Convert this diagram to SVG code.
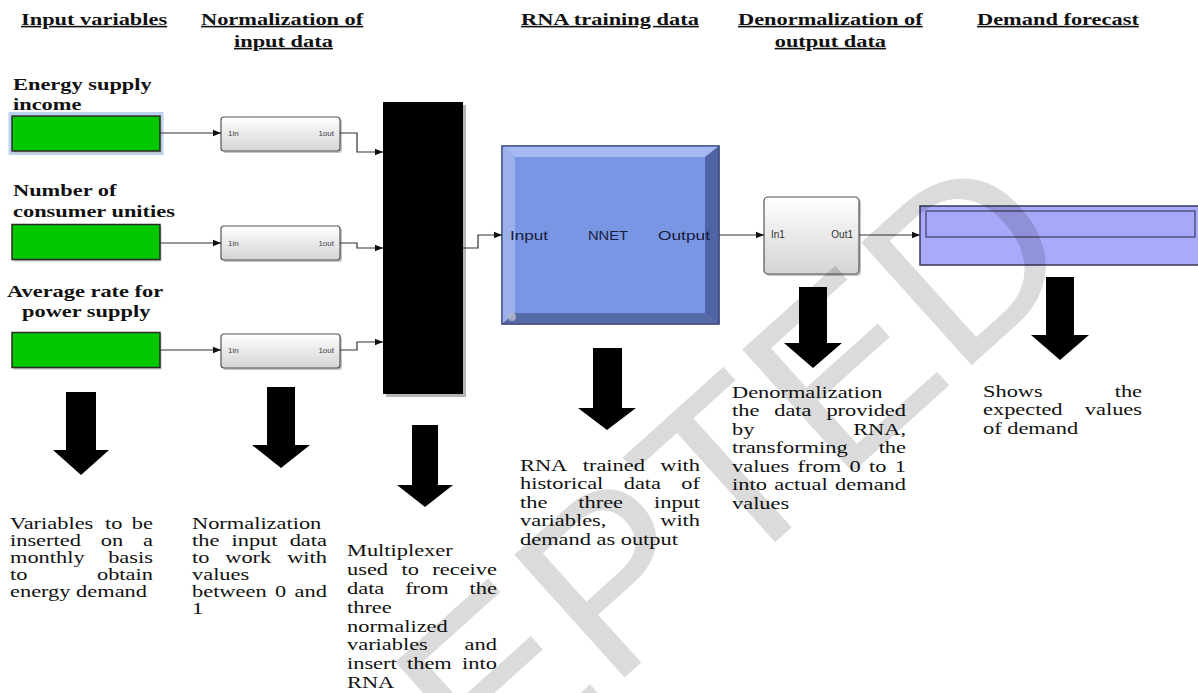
<svg xmlns="http://www.w3.org/2000/svg" width="1198" height="693" viewBox="0 0 1198 693">
<style>
.hdr{font-family:"Liberation Serif","Times New Roman",serif;font-weight:bold;font-size:16px;text-decoration:underline;fill:#111}
.lbl{font-family:"Liberation Serif","Times New Roman",serif;font-weight:bold;font-size:16px;fill:#111}
.b{font-family:"Liberation Serif","Times New Roman",serif;font-size:16px;fill:#111}
.e{text-anchor:end}
.port{font-family:"Liberation Sans",Arial,sans-serif;font-size:8px;fill:#444}
.port2{font-family:"Liberation Sans",Arial,sans-serif;font-size:10px;fill:#333}
.nn{font-family:"Liberation Sans",Arial,sans-serif;font-size:13px;fill:#1a1a3a}
.green{fill:#00c800;stroke:#2a2a2a;stroke-width:1.5}
.sblk{fill:url(#g1);stroke:#555;stroke-width:1.2}
.shd{fill:#c4c4c4}
.conn{fill:none;stroke:#333;stroke-width:1.2;marker-end:url(#ah)}
.big{fill:#000}
</style>
<defs>
<linearGradient id="g1" x1="0" y1="0" x2="0" y2="1"><stop offset="0" stop-color="#ffffff"/><stop offset="1" stop-color="#d4d4d4"/></linearGradient>
<marker id="ah" viewBox="0 0 10 10" refX="10" refY="5" markerWidth="9" markerHeight="8" markerUnits="userSpaceOnUse" orient="auto"><path d="M0,1 L10,5 L0,9 z" fill="#111"/></marker>
</defs>
<rect width="1198" height="693" fill="#fff"/>

<g id="headers">
<g id="hdr-input" transform="translate(21,0) scale(1.4,1)"><text class="hdr" x="0" y="25">Input variables</text></g>
<g id="hdr-norm" transform="translate(201,0) scale(1.4,1)"><text class="hdr" x="0" y="25">Normalization of</text><text class="hdr" x="58.9" y="47" text-anchor="middle">input data</text></g>
<g id="hdr-rna" transform="translate(521,0) scale(1.4,1)"><text class="hdr" x="0" y="25">RNA training data</text></g>
<g id="hdr-denorm" transform="translate(738,0) scale(1.4,1)"><text class="hdr" x="0" y="25">Denormalization of</text><text class="hdr" x="66" y="47" text-anchor="middle">output data</text></g>
<g id="hdr-forecast" transform="translate(977,0) scale(1.4,1)"><text class="hdr" x="0" y="25">Demand forecast</text></g>
</g>

<g id="in-energy">
<g transform="translate(13,0) scale(1.4,1)"><text class="lbl" x="0" y="90">Energy supply</text><text class="lbl" x="0" y="110">income</text></g>
<rect x="10" y="113.5" width="152" height="40" fill="none" stroke="#b9d3ee" stroke-width="3"/>
<rect x="13.5" y="118" width="148" height="35" class="shd"/>
<rect x="12" y="116" width="148" height="35" class="green"/>
</g>
<g id="in-consumers">
<g transform="translate(13,0) scale(1.4,1)"><text class="lbl" x="0" y="196">Number of</text><text class="lbl" x="0" y="217">consumer unities</text></g>
<rect x="13.5" y="226.5" width="148" height="35" class="shd"/>
<rect x="12" y="224.5" width="148" height="35" class="green"/>
</g>
<g id="in-rate">
<g transform="translate(7,0) scale(1.4,1)"><text class="lbl" x="0" y="297">Average rate for</text></g>
<g transform="translate(22,0) scale(1.4,1)"><text class="lbl" x="0" y="317">power supply</text></g>
<rect x="13.5" y="334.5" width="148" height="35" class="shd"/>
<rect x="12" y="332.5" width="148" height="35" class="green"/>
</g>

<g id="norm1">
<rect x="223" y="119" width="119" height="34" rx="3" class="shd"/>
<rect x="221" y="117" width="119" height="34" rx="3" class="sblk"/>
<text class="port" x="228" y="136">1in</text><text class="port e" x="334" y="136">1out</text>
</g>
<g id="norm2">
<rect x="223" y="228" width="119" height="34" rx="3" class="shd"/>
<rect x="221" y="226" width="119" height="34" rx="3" class="sblk"/>
<text class="port" x="228" y="246">1in</text><text class="port e" x="334" y="246">1out</text>
</g>
<g id="norm3">
<rect x="223" y="336" width="119" height="34" rx="3" class="shd"/>
<rect x="221" y="334" width="119" height="34" rx="3" class="sblk"/>
<text class="port" x="228" y="353">1in</text><text class="port e" x="334" y="353">1out</text>
</g>

<g id="mux">
<rect x="386" y="105" width="80" height="292" fill="#b5b5b5"/>
<rect x="383" y="102" width="80" height="292" fill="#000"/>
</g>

<g id="nnet">
<rect x="502" y="146" width="217" height="178" fill="#7896e4" stroke="#3a4678" stroke-width="1.2"/>
<polygon points="502,146 719,146 705,157 515,157" fill="#a6b9f1"/>
<polygon points="502,146 515,157 515,313 502,324" fill="#9cb0ec"/>
<polygon points="719,146 719,324 705,313 705,157" fill="#4f63a5"/>
<polygon points="502,324 719,324 705,313 515,313" fill="#566aa6"/>
<rect x="502" y="146" width="217" height="178" fill="none" stroke="#3a4678" stroke-width="1.2"/>
<circle cx="512" cy="317" r="4" fill="#b8bcc8" opacity="0.8"/>
<text class="nn" x="510" y="240" textLength="38" lengthAdjust="spacingAndGlyphs">Input</text>
<text class="nn" x="588" y="240" textLength="40" lengthAdjust="spacingAndGlyphs">NNET</text>
<text class="nn" x="658" y="240" textLength="52" lengthAdjust="spacingAndGlyphs">Output</text>
</g>

<g id="denorm">
<rect x="766" y="199" width="95" height="77" rx="4" class="shd"/>
<rect x="764" y="197" width="95" height="77" rx="4" class="sblk"/>
<text class="port2" x="771" y="238">In1</text><text class="port2 e" x="853" y="238">Out1</text>
</g>

<g id="forecast">
<rect x="920" y="206" width="300" height="59" fill="#aaaafd" stroke="#3a3a5a" stroke-width="1.5"/>
<rect x="926" y="211" width="269" height="26" fill="#a8a8fb" stroke="#44446a" stroke-width="1.3"/>
</g>

<g id="connectors">
<path class="conn" d="M160,133 H221"/>
<path class="conn" d="M160,243 H221"/>
<path class="conn" d="M160,350 H221"/>
<path class="conn" d="M340,133 H357 V152 H383"/>
<path class="conn" d="M340,243 H357 V248 H383"/>
<path class="conn" d="M340,350 H357 V342 H383"/>
<path class="conn" d="M463,248 H478 V235 H502"/>
<path class="conn" d="M719,235 H764"/>
<path class="conn" d="M859,235 H920"/>
</g>

<g id="block-arrows">
<path class="big" d="M66,392 H96 V450 H109 L81,475 L53,450 H66 Z"/>
<path class="big" d="M267,387 H295 V445 H310 L281,468 L252,445 H267 Z"/>
<path class="big" d="M412,425 H438 V485 H453 L425,507 L397,485 H412 Z"/>
<path class="big" d="M593,348 H622 V408 H636 L607,430 L578,408 H593 Z"/>
<path class="big" d="M799,287 H827 V343 H842 L813,368 L784,343 H799 Z"/>
<path class="big" d="M1046,277 H1074 V335 H1089 L1060,360 L1031,335 H1046 Z"/>
</g>

<g id="note-input" transform="translate(10,0) scale(1.4,1)">
<text class="b" x="0" y="529">Variables</text><text class="b" x="67.9" y="529">to</text><text class="b e" x="102.1" y="529">be</text>
<text class="b" x="0" y="546">inserted</text><text class="b" x="64.8" y="546">on</text><text class="b e" x="102.1" y="546">a</text>
<text class="b" x="0" y="563">monthly</text><text class="b e" x="102.1" y="563">basis</text>
<text class="b" x="0" y="580">to</text><text class="b e" x="102.1" y="580">obtain</text>
<text class="b" x="0" y="597">energy demand</text>
</g>

<g id="note-norm" transform="translate(192,0) scale(1.4,1)">
<text class="b" x="0" y="529">Normalization</text>
<text class="b" x="0" y="546">the</text><text class="b" x="28.2" y="546">input</text><text class="b e" x="96.4" y="546">data</text>
<text class="b" x="0" y="563">to</text><text class="b" x="23.75" y="563">work</text><text class="b e" x="96.4" y="563">with</text>
<text class="b" x="0" y="580">values</text>
<text class="b" x="0" y="597">between</text><text class="b" x="59.3" y="597">0</text><text class="b e" x="96.4" y="597">and</text>
<text class="b" x="0" y="614">1</text>
</g>

<g id="note-mux" transform="translate(347,0) scale(1.4,1)">
<text class="b" x="0" y="556">Multiplexer</text>
<text class="b" x="0" y="574.9">used</text><text class="b" x="38.9" y="574.9">to</text><text class="b e" x="107.1" y="574.9">receive</text>
<text class="b" x="0" y="593.8">data</text><text class="b" x="41.56" y="593.8">from</text><text class="b e" x="107.1" y="593.8">the</text>
<text class="b" x="0" y="612.7">three</text>
<text class="b" x="0" y="631.6">normalized</text>
<text class="b" x="0" y="650.5">variables</text><text class="b e" x="107.1" y="650.5">and</text>
<text class="b" x="0" y="669.4">insert</text><text class="b" x="42.85" y="669.4">them</text><text class="b e" x="107.1" y="669.4">into</text>
<text class="b" x="0" y="688.3">RNA</text>
</g>

<g id="note-rna" transform="translate(520,0) scale(1.4,1)">
<text class="b" x="0" y="471">RNA</text><text class="b" x="44.8" y="471">trained</text><text class="b e" x="128.6" y="471">with</text>
<text class="b" x="0" y="489.5">historical</text><text class="b" x="74.1" y="489.5">data</text><text class="b e" x="128.6" y="489.5">of</text>
<text class="b" x="0" y="508">the</text><text class="b" x="41.65" y="508">three</text><text class="b e" x="128.6" y="508">input</text>
<text class="b" x="0" y="526.5">variables,</text><text class="b e" x="128.6" y="526.5">with</text>
<text class="b" x="0" y="545">demand as output</text>
</g>

<g id="note-denorm" transform="translate(732,0) scale(1.4,1)">
<text class="b" x="0" y="398">Denormalization</text>
<text class="b" x="0" y="416.5">the</text><text class="b" x="30.15" y="416.5">data</text><text class="b e" x="124.3" y="416.5">provided</text>
<text class="b" x="0" y="435">by</text><text class="b e" x="124.3" y="435">RNA,</text>
<text class="b" x="0" y="453.5">transforming</text><text class="b e" x="124.3" y="453.5">the</text>
<text class="b" x="0" y="472">values</text><text class="b" x="46.86" y="472">from</text><text class="b" x="83.92" y="472">0</text><text class="b" x="97.88" y="472">to</text><text class="b e" x="124.3" y="472">1</text>
<text class="b" x="0" y="490.5">into</text><text class="b" x="30.17" y="490.5">actual</text><text class="b e" x="124.3" y="490.5">demand</text>
<text class="b" x="0" y="509">values</text>
</g>

<g id="note-forecast" transform="translate(983,0) scale(1.4,1)">
<text class="b" x="0" y="397">Shows</text><text class="b e" x="113.6" y="397">the</text>
<text class="b" x="0" y="415.5">expected</text><text class="b e" x="113.6" y="415.5">values</text>
<text class="b" x="0" y="434">of demand</text>
</g>

<g id="watermark">
<text x="114.5" y="1137" transform="rotate(-42 114.5 1137)" font-family="Liberation Sans, Arial, sans-serif" font-size="240" fill="#000" fill-opacity="0.14">ACCEPTED</text>
</g>
</svg>
